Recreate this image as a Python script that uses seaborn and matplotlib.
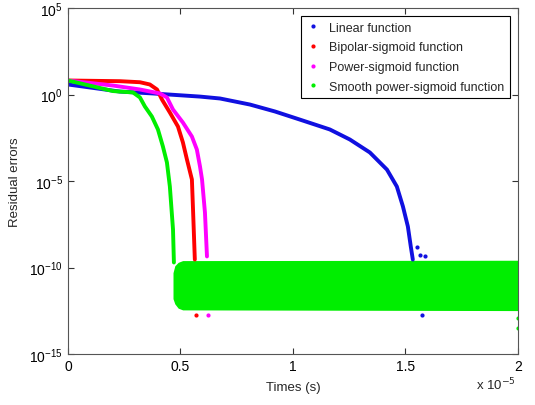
import matplotlib
matplotlib.use("Agg")
import matplotlib.pyplot as plt
from matplotlib.lines import Line2D
from matplotlib.ticker import FixedLocator, NullLocator
import numpy as np
import pandas as pd
import seaborn as sns

# ── Data (time in units of 1e-5 s, errors as log10 exponents) ────────────────

labels = ["Linear function", "Bipolar-sigmoid function",
          "Power-sigmoid function", "Smooth power-sigmoid function"]
colors = ["#1010e0", "#ff0000", "#ff00ff", "#00ee00"]

lin_t = [0.0, 0.231, 0.378, 0.587, 0.676, 0.809, 0.92, 1.031, 1.164, 1.253,
         1.342, 1.418, 1.462, 1.489, 1.511, 1.524, 1.533]
lin_e = [0.58, 0.17, 0.06, -0.12, -0.23, -0.58, -0.98, -1.45, -2.02, -2.60,
         -3.35, -4.34, -5.32, -6.47, -7.63, -8.79, -9.54]

bip_t = [0.0, 0.231, 0.32, 0.364, 0.396, 0.418, 0.453, 0.489, 0.511, 0.529,
         0.551, 0.556, 0.564]
bip_e = [0.81, 0.77, 0.71, 0.58, 0.29, -0.29, -1.04, -1.85, -2.77, -3.76,
         -4.91, -6.65, -9.54]

pow_t = [0.0, 0.20, 0.231, 0.32, 0.409, 0.44, 0.467, 0.511, 0.551, 0.573,
         0.587, 0.596, 0.609, 0.618]
pow_e = [0.81, 0.52, 0.46, 0.29, 0.06, -0.17, -0.87, -1.62, -2.43, -3.18,
         -4.16, -4.91, -6.82, -9.36]

smo_t = [0.0, 0.20, 0.231, 0.289, 0.32, 0.342, 0.373, 0.40, 0.422, 0.44,
         0.453, 0.467, 0.471]
smo_e = [0.81, 0.20, 0.17, 0.12, -0.17, -0.69, -1.27, -2.02, -3.0, -3.93,
         -5.32, -7.80, -9.71]

# steady-state noise band (green)
band_t  = [0.467, 0.475, 0.49, 0.51, 2.0]
band_hi = [-10.3, -9.9, -9.7, -9.6, -9.58]
band_lo = [-11.8, -12.1, -12.35, -12.45, -12.49]

# stray points outside the band
stray_t = [[1.551, 1.564, 1.587, 1.573], [0.569], [0.622], [2.0, 2.0]]
stray_e = [[-8.79, -9.25, -9.36, -12.77], [-12.72], [-12.77], [-12.89, -13.5]]

curves = [(lin_t, lin_e), (bip_t, bip_e), (pow_t, pow_e), (smo_t, smo_e)]

# ── Plot ─────────────────────────────────────────────────────────────────────

sns.set_style("white")
plt.rcParams["font.family"] = ["Liberation Sans", "DejaVu Sans"]

fig = plt.figure(figsize=(5.35, 4.06), dpi=100)
ax = fig.add_axes([0.127, 0.1256, 0.841, 0.8522])

for (t, e), c, lab in zip(curves, colors, labels):
    df = pd.DataFrame({"t": t, "err": 10.0 ** np.array(e)})
    sns.lineplot(data=df, x="t", y="err", ax=ax, color=c, lw=2.8,
                 sort=False, estimator=None, legend=False)

ax.fill_between(band_t, 10.0 ** np.array(band_lo), 10.0 ** np.array(band_hi),
                color="#00ee00", lw=0)

for t, e, c in zip(stray_t, stray_e, colors):
    ax.plot(t, 10.0 ** np.array(e), ".", color=c, ms=4, ls="none")

ax.set_yscale("log")
ax.set_xlim(0, 2)
ax.set_ylim(1e-15, 1e5)
ax.yaxis.set_major_locator(FixedLocator([1e-15, 1e-10, 1e-5, 1e0, 1e5]))
ax.yaxis.set_minor_locator(NullLocator())
ax.set_xticks([0, 0.5, 1, 1.5, 2])
ax.set_xticklabels(["0", "0.5", "1", "1.5", "2"])

ax.tick_params(direction="in", length=4, width=0.8, colors="#333333",
               labelcolor="black", labelsize=10, top=True, right=True,
               bottom=True, left=True)
for s in ax.spines.values():
    s.set_color("#555555")
    s.set_linewidth(0.8)

ax.set_xlabel("Times (s)", fontsize=9.5, labelpad=6)
ax.set_ylabel("Residual errors", fontsize=9.5, labelpad=6)
ax.text(0.995, -0.088, r"x 10$^{-5}$", transform=ax.transAxes,
        ha="right", va="center", fontsize=9.5)

handles = [Line2D([], [], marker=".", ls="none", color=c, ms=4) for c in colors]
leg = ax.legend(handles, labels, loc="upper right",
                bbox_to_anchor=(0.982, 0.977), borderaxespad=0, fontsize=9,
                frameon=True, fancybox=False, edgecolor="black", framealpha=1,
                handlelength=1.0, handletextpad=0.8, labelspacing=0.62,
                borderpad=0.45)
leg.get_frame().set_linewidth(0.8)

fig.savefig("out.png", dpi=100)
